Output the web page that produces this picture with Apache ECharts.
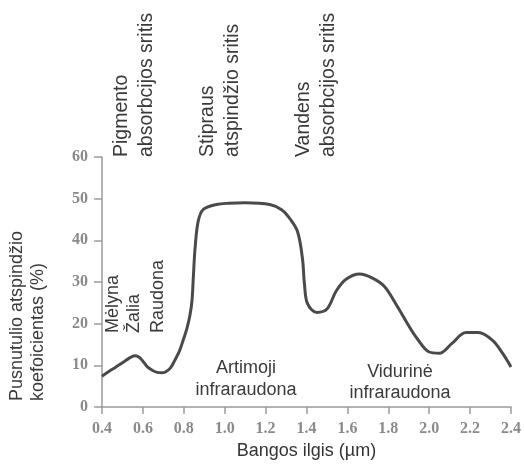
<!DOCTYPE html>
<html>
<head>
<meta charset="utf-8">
<script src="https://cdn.jsdelivr.net/npm/echarts@6/dist/echarts.min.js"></script>
<style>html,body{margin:0;padding:0;background:#fff}#c{width:524px;height:466px}</style>
</head>
<body>
<div id="c"></div>
<script>
// wavelength (µm)
const wavelengths = [0.40,0.435,0.465,0.50,0.535,0.56,0.58,0.60,0.625,0.65,0.67,0.69,0.71,0.735,0.756,0.78,0.80,0.815,0.83,0.84,0.847,0.855,0.87,0.895,0.96,1.02,1.10,1.22,1.28,1.317,1.356,1.38,1.39,1.405,1.45,1.50,1.546,1.595,1.66,1.72,1.78,1.84,1.90,1.94,2.00,2.05,2.11,2.18,2.24,2.31,2.36,2.40];
// reflectance (%)
const reflectance = [7.4,8.6,9.5,10.6,11.8,12.3,12.0,11.0,9.5,8.7,8.3,8.2,8.4,9.4,11.2,13.6,16.5,18.8,22,25.5,31.5,38,44.5,47.4,48.6,48.9,49,48.6,47.3,45.3,42.1,35.7,29.5,24.8,22.7,23.5,27.9,30.7,31.9,31,29,24.5,19.5,16.5,13.2,12.9,15.2,17.9,17.9,16,12.8,9.6];
const xTicks = {min:0.4, max:2.4, step:0.2};
const yTicks = {min:0, max:60, step:10};
const xTitle = 'Bangos ilgis (µm)';
const yTitle = 'Pusnutulio atspindžio\nkoefoicientas (%)';
const topLabels = ['Pigmento\nabsorbcijos sritis','Stipraus\natspindžio sritis','Vandens\nabsorbcijos sritis'];
const colorLabels = ['Mėlyna','Žalia','Raudona'];
const bandLabels = ['Artimoji\ninfraraudona','Vidurinė\ninfraraudona'];

const chart = echarts.init(document.getElementById('c'));
const sans = '"Liberation Sans", Arial, sans-serif';
const serif = '"Liberation Serif", "Times New Roman", serif';
const txt = (x, y, text, opt) => Object.assign({
  type: 'text', x: x, y: y,
  style: Object.assign({text: text, font: '18px ' + sans, fill: '#3a3a3a', textAlign: 'center', textVerticalAlign: 'middle', lineHeight: 22}, opt && opt.style || {}),
  rotation: opt && opt.rotation || 0
});
const rot = Math.PI / 2;
const topStyle = {textAlign: 'left', lineHeight: 25, font: '19.5px ' + sans};
chart.setOption({
  animation: false,
  grid: {left: 102, right: 12, top: 157, bottom: 59},
  xAxis: {
    type: 'value', min: xTicks.min, max: xTicks.max, interval: xTicks.step,
    name: xTitle, nameLocation: 'middle', nameGap: 29,
    nameTextStyle: {fontFamily: sans, fontSize: 18, color: '#333', verticalAlign: 'top'},
    axisLine: {lineStyle: {color: '#9a9a9a', width: 1.5}},
    axisTick: {show: true, length: 7, lineStyle: {color: '#9a9a9a', width: 1.5}},
    axisLabel: {margin: 14, fontFamily: serif, fontSize: 16, fontWeight: 'bold', color: '#8a8a8a', formatter: v => v.toFixed(1)},
    splitLine: {show: false}
  },
  yAxis: {
    type: 'value', min: yTicks.min, max: yTicks.max, interval: yTicks.step,
    axisLine: {show: true, lineStyle: {color: '#9a9a9a', width: 1.5}},
    axisTick: {show: true, length: 8, lineStyle: {color: '#9a9a9a', width: 1.5}},
    axisLabel: {margin: 14, fontFamily: serif, fontSize: 16, fontWeight: 'bold', color: '#8a8a8a'},
    splitLine: {show: false}
  },
  series: [{
    type: 'line',
    data: wavelengths.map((w, i) => [w, reflectance[i]]),
    smooth: 0.35,
    showSymbol: false,
    lineStyle: {color: '#4a4a4a', width: 3}
  }],
  graphic: [
    txt(134.5, 157, topLabels[0], {rotation: rot, style: topStyle}),
    txt(220, 157, topLabels[1], {rotation: rot, style: topStyle}),
    txt(316.5, 157, topLabels[2], {rotation: rot, style: topStyle}),
    txt(27.5, 401, yTitle, {rotation: rot, style: {textAlign: 'left', lineHeight: 21}}),
    txt(113, 333, colorLabels[0], {rotation: rot, style: {textAlign: 'left'}}),
    txt(134, 333, colorLabels[1], {rotation: rot, style: {textAlign: 'left'}}),
    txt(158, 333, colorLabels[2], {rotation: rot, style: {textAlign: 'left'}}),
    txt(246, 379, bandLabels[0], {}),
    txt(400, 383, bandLabels[1], {style: {lineHeight: 21}})
  ]
});
</script>
</body>
</html>
